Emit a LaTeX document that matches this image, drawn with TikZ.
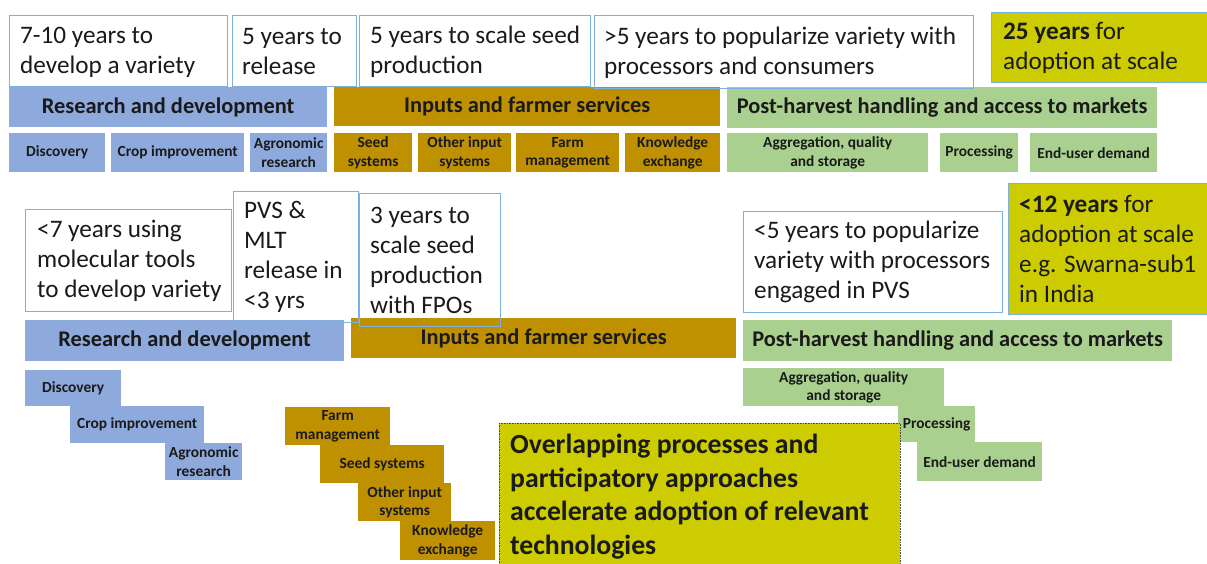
\documentclass[tikz,border=0pt]{standalone}
\usepackage{fontspec}
\setmainfont{Carlito}
\newcommand\fsz[2]{\fontsize{#1}{#2}\selectfont}
\definecolor{bord}{HTML}{7EB0DE}
\definecolor{barblue}{HTML}{8EA9DB}
\definecolor{gold}{HTML}{BF9000}
\definecolor{grn}{HTML}{A9D08E}
\definecolor{olive}{HTML}{CCCC00}
\definecolor{ink}{HTML}{1A1A1A}
\tikzset{
  wbox/.style={draw=bord, line width=0.9pt, anchor=north west, inner sep=0pt},
  obox/.style={wbox, fill=olive},
  wtxt/.style={anchor=west, inner sep=0pt, align=left, text=ink, font=\fsz{25.2}{30}},
  bar/.style={anchor=north west, inner sep=0pt, text=ink, font=\bfseries\fsz{22.4}{26}, align=center},
  sb/.style={anchor=north west, inner sep=0pt, text=ink, font=\bfseries\fsz{15.4}{18.5}, align=center},
  bb/.style={fill=barblue}, gb/.style={fill=gold}, vb/.style={fill=grn}
}
\begin{document}
\begin{tikzpicture}[x=1pt,y=-1pt]
\useasboundingbox (0,0) rectangle (1207,563);
\clip (0,0) rectangle (1207,563);
% ---------- top section ----------
\node[bar,bb,minimum width=318pt,minimum height=40pt] (rd1) at (9,87) {Research and development};
\node[bar,gb,minimum width=386pt,minimum height=39pt] (if1) at (334,87) {Inputs and farmer services};
\node[bar,vb,minimum width=430pt,minimum height=41pt] (ph1) at (727,87) {Post-harvest handling and access to markets};

\node[wbox,minimum width=218pt,minimum height=71pt] (t1) at (9,15) {};
\node[wtxt] (t1t) at ([xshift=11pt,yshift=-1pt]t1.west) {7-10 years to\\develop a variety};
\node[wbox,minimum width=124pt,minimum height=71pt] (t2) at (232,15) {};
\node[wtxt] (t2t) at ([xshift=10pt,yshift=-1pt]t2.west) {5 years to\\release};
\node[wbox,minimum width=231pt,minimum height=71pt] (t3) at (359,15) {};
\node[wtxt] (t3t) at ([xshift=11pt,yshift=-1pt]t3.west) {5 years to scale seed\\production};
\node[wbox,minimum width=379pt,minimum height=73pt] (t4) at (594,15) {};
\node[wtxt] (t4t) at ([xshift=10pt,yshift=-1pt]t4.west) {>5 years to popularize variety with\\processors and consumers};
\node[obox,minimum width=230pt,minimum height=70pt] (t5) at (991,12) {};
\node[wtxt] (t5t) at ([xshift=12pt]t5.west) {\textbf{25 years} for\\adoption at scale};

\node[sb,bb,minimum width=96pt,minimum height=39pt] (s1) at (9,133) {Discovery};
\node[sb,bb,minimum width=133pt,minimum height=39pt] (s2) at (111,133) {Crop improvement};
\node[sb,bb,minimum width=77pt,minimum height=39pt] (s3) at (250,133) {Agronomic\\research};
\node[sb,gb,minimum width=78pt,minimum height=39pt] (s4) at (334,133) {Seed\\systems};
\node[sb,gb,minimum width=93pt,minimum height=39pt] (s5) at (418,133) {Other input\\systems};
\node[sb,gb,minimum width=103pt,minimum height=39pt] (s6) at (516,133) {Farm\\management};
\node[sb,gb,minimum width=95pt,minimum height=39pt] (s7) at (625,133) {Knowledge\\exchange};
\node[sb,vb,minimum width=201pt,minimum height=39pt] (s8) at (727,133) {Aggregation, quality\\and storage};
\node[sb,vb,minimum width=78pt,minimum height=39pt] (s9) at (940,133) {Processing};
\node[sb,vb,minimum width=127pt,minimum height=39pt] (s10) at (1030,133) {End-user demand};

% ---------- lower section ----------
\node[bar,bb,minimum width=319pt,minimum height=41pt] (rd2) at (25,320) {Research and development};
\node[bar,gb,minimum width=385pt,minimum height=40pt] (if2) at (351,318) {Inputs and farmer services};
\node[bar,vb,minimum width=429pt,minimum height=41pt] (ph2) at (743,320) {Post-harvest handling and access to markets};

\node[wbox,minimum width=206pt,minimum height=102pt] (c1) at (25,209) {};
\node[wtxt] (c1t) at ([xshift=12pt]c1.west) {<7 years using\\molecular tools\\to develop variety};
\node[wbox,minimum width=125pt,minimum height=131pt] (c2) at (233,191) {};
\node[wtxt] (c2t) at ([xshift=11pt]c2.west) {PVS \&\\MLT\\release in\\<3 yrs};
\node[wbox,minimum width=141pt,minimum height=133pt] (c3) at (359,193) {};
\node[wtxt] (c3t) at ([xshift=11pt]c3.west) {3 years to\\scale seed\\production\\with FPOs};
\node[wbox,minimum width=259pt,minimum height=101pt] (c4) at (743,211) {};
\node[wtxt] (c4t) at ([xshift=11pt]c4.west) {<5 years to popularize\\variety with processors\\engaged in PVS};
\node[obox,minimum width=220pt,minimum height=131pt] (c5) at (1008,183) {};
\node[wtxt] (c5t) at ([xshift=11pt]c5.west) {\textbf{<12 years} for\\adoption at scale\\e.g. Swarna-sub1\\in India};

\node[sb,bb,minimum width=96pt,minimum height=36pt] (d1) at (25,370) {Discovery};
\node[sb,bb,minimum width=134pt,minimum height=37pt] (d2) at (70,406) {Crop improvement};
\node[sb,bb,minimum width=77pt,minimum height=37pt] (d3) at (165,443) {Agronomic\\research};

\node[sb,gb,minimum width=105pt,minimum height=38pt] (g1) at (285,407) {Farm\\management};
\node[sb,gb,minimum width=124pt,minimum height=38pt] (g2) at (320,445) {Seed systems};
\node[sb,gb,minimum width=93pt,minimum height=38pt] (g3) at (358,483) {Other input\\systems};
\node[sb,gb,minimum width=95pt,minimum height=39pt] (g4) at (400,521) {Knowledge\\exchange};

\node[sb,vb,minimum width=201pt,minimum height=38pt] (v1) at (743,368) {Aggregation, quality\\and storage};
\node[sb,vb,minimum width=77pt,minimum height=36pt] (v2) at (898,406) {Processing};
\node[sb,vb,minimum width=125pt,minimum height=39pt] (v3) at (917,442) {End-user demand};

\node[anchor=north west, fill=olive, draw=black!70, densely dotted, line width=0.6pt, inner sep=0pt,
      minimum width=401pt, minimum height=147pt] (big) at (499,423) {};
\node[wtxt, font=\bfseries\fsz{27.7}{33.5}] (bigt) at ([xshift=11pt]big.west)
  {Overlapping processes and\\participatory approaches\\accelerate adoption of relevant\\technologies};
\end{tikzpicture}
\end{document}
